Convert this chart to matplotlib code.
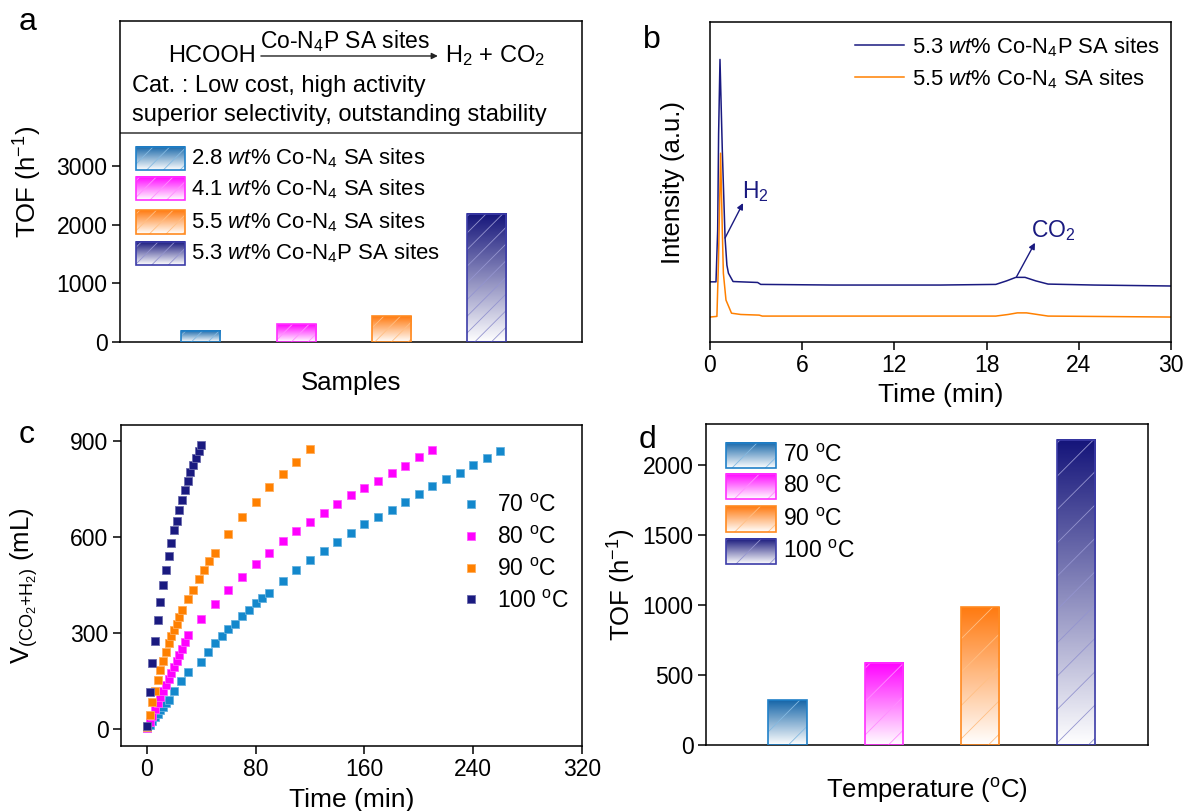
import numpy as np
import matplotlib
matplotlib.use("Agg")
import matplotlib.pyplot as plt
from matplotlib.colors import to_rgb
from matplotlib.patches import Rectangle

plt.rcParams['font.family'] = 'Liberation Sans'
plt.rcParams['mathtext.fontset'] = 'custom'
plt.rcParams['mathtext.rm'] = 'Liberation Sans'
plt.rcParams['mathtext.it'] = 'Liberation Sans:italic'
plt.rcParams['mathtext.bf'] = 'Liberation Sans:bold'
plt.rcParams['hatch.linewidth'] = 0.6
plt.rcParams['axes.linewidth'] = 1.1

# ---- data -------------------------------------------------------------
# (a) TOF of the four catalysts
samples = ['2.8 $\\mathit{wt}$% Co-N$_4$ SA sites',
           '4.1 $\\mathit{wt}$% Co-N$_4$ SA sites',
           '5.5 $\\mathit{wt}$% Co-N$_4$ SA sites',
           '5.3 $\\mathit{wt}$% Co-N$_4$P SA sites']
tof_samples = [190, 300, 440, 2190]

# (b) GC traces (arbitrary intensity units)
t_n4p = [0, 0.39, 0.5, 0.56, 0.65, 0.8, 0.98, 1.1, 1.2, 1.5, 2.0, 3.1, 3.3,
         8, 15, 18.6, 19.3, 19.9, 20.5, 21.2, 22, 25, 30]
i_n4p = [18.8, 18.8, 35, 65, 88.3, 60, 32.5, 24, 21.5, 18.9, 18.8, 18.6, 18.0,
         17.8, 17.8, 18.0, 19.1, 20.2, 20.2, 19.1, 18.1, 17.8, 17.5]
t_n4 = [0, 0.45, 0.55, 0.69, 0.8, 0.87, 1.04, 1.4, 2.0, 3.2, 3.4,
        18.6, 19.4, 20.0, 20.6, 21.3, 22, 30]
i_n4 = [7.8, 8.0, 25, 59, 35, 21.5, 13.1, 9.0, 8.6, 8.4, 8.1,
        8.1, 8.6, 9.1, 9.1, 8.6, 8.1, 7.8]

# (c) gas volume vs time
t70 = [0, 2, 4, 6, 8, 10, 12, 14, 16, 20, 25, 30, 40, 45, 50, 55, 60, 65, 70, 75,
       80, 85, 90, 100, 110, 120, 130, 140, 150, 160, 170, 180, 190, 200, 210,
       220, 230, 240, 250, 260]
v70 = [3, 14, 26, 37, 48, 59, 70, 81, 93, 121, 150, 180, 210, 240, 271, 290, 313,
       330, 353, 371, 394, 409, 426, 462, 496, 528, 558, 586, 614, 640, 664, 685,
       710, 734, 759, 781, 801, 825, 848, 869]
t80 = [0, 2, 4, 6, 8, 10, 12, 14, 16, 18, 20, 22, 24, 26, 28, 30, 40, 50, 60, 70,
       80, 90, 100, 110, 120, 130, 140, 150, 160, 170, 180, 190, 200, 210]
v80 = [5, 24, 43, 62, 81, 100, 119, 138, 157, 175, 194, 213, 232, 252, 272, 293,
       343, 391, 436, 476, 516, 552, 587, 618, 647, 676, 704, 730, 754, 775, 800,
       823, 851, 871]
t90 = [0, 2, 4, 6, 8, 10, 12, 14, 16, 18, 20, 22, 24, 26, 30, 34, 38, 42, 46, 50,
       60, 70, 80, 90, 100, 110, 120]
v90 = [8, 46, 86, 121, 153, 184, 213, 242, 268, 292, 309, 330, 350, 374, 406, 436,
       468, 496, 524, 552, 610, 662, 710, 756, 798, 836, 875]
t100 = [0, 2, 4, 6, 8, 10, 12, 14, 16, 18, 20, 22, 24, 26, 28, 30, 32, 34, 36, 38, 40]
v100 = [10, 117, 207, 275, 340, 399, 450, 498, 542, 583, 622, 651, 685, 717, 747,
        776, 802, 826, 847, 868, 888]

# (d) TOF vs temperature
temps = ['70 $^{\\rm o}$C', '80 $^{\\rm o}$C', '90 $^{\\rm o}$C', '100 $^{\\rm o}$C']
tof_temps = [320, 586, 984, 2180]

c_blue = '#1388cc'
c_mag = '#ff00ff'
c_orange = '#ff8000'
c_navy = '#1a1a80'
bar_top = ['#1565a8', '#ff00ff', '#ff7a10', '#14147a']
bar_edge = ['#2080c8', '#ff30ff', '#ff8a20', '#3c3ca8']


def tint(c, f):
    r = np.array(to_rgb(c))
    return tuple(r + (1 - r) * f)


def gradient(ax, x0, y0, w, h, color, transform, zorder=2):
    t = np.linspace(0, 1, 200)[:, None, None]
    img = np.ones((200, 1, 3)) * (1 - t) + np.array(to_rgb(color))[None, None, :] * t
    ax.imshow(img, extent=(x0, x0 + w, y0, y0 + h), origin='lower', aspect='auto',
              transform=transform, zorder=zorder, interpolation='bilinear')


def grad_bars(ax, x, vals, width, hatch):
    bars = ax.bar(x, vals, width, fill=False, linewidth=0, zorder=3)
    for b, top in zip(bars, bar_top):
        gradient(ax, b.get_x(), b.get_y(), b.get_width(), b.get_height(), top, ax.transData)
    for b, e in zip(bars, bar_edge):
        b.set_hatch(hatch)
        b.set_edgecolor(tint(e, 0.45))
    ax.bar(x, vals, width, fill=False, edgecolor=bar_edge, linewidth=1.2, zorder=4)


def grad_legend(ax, labels, x0, w, ycs, h, tx, fs, hatch):
    for lab, yc, top, e in zip(labels, ycs, bar_top, bar_edge):
        gradient(ax, x0, yc - h / 2, w, h, top, ax.transAxes, zorder=5)
        ax.add_patch(Rectangle((x0, yc - h / 2), w, h, fill=False, hatch=hatch,
                               edgecolor=tint(e, 0.45), lw=0, transform=ax.transAxes, zorder=6))
        ax.add_patch(Rectangle((x0, yc - h / 2), w, h, fill=False, edgecolor=e,
                               lw=1.2, transform=ax.transAxes, zorder=7))
        ax.text(tx, yc, lab, transform=ax.transAxes, fontsize=fs, va='center', ha='left')


fig = plt.figure(figsize=(11.86, 8.11), dpi=100)
W, H = 1186, 811


def add_ax(l, r, t, b):
    return fig.add_axes([l / W, (H - b) / H, (r - l) / W, (b - t) / H])


ax_a = add_ax(120, 582, 21, 342)
ax_b = add_ax(710, 1171, 22, 342)
ax_c = add_ax(121, 582, 425, 746)
ax_d = add_ax(706, 1148, 424, 745)

# ---- (a) --------------------------------------------------------------
xa = np.arange(1, 5)
grad_bars(ax_a, xa, tof_samples, 0.41, '//')
ax_a.set_xlim(0.15, 5.0)
ax_a.set_ylim(0, 5487)
ax_a.set_yticks([0, 1000, 2000, 3000])
ax_a.set_xticks([])
ax_a.tick_params(axis='y', direction='out', length=5.5, width=1.1, labelsize=16.5)
ax_a.axhline(3573, color='#333333', lw=1.1)
ax_a.set_ylabel('TOF (h$^{-1}$)', fontsize=18.5, labelpad=9)
ax_a.set_xlabel('Samples', fontsize=18.5, labelpad=21)
ax_a.text(0.104, 0.891, 'HCOOH', transform=ax_a.transAxes, fontsize=17, va='center')
ax_a.annotate('', xy=(0.688, 0.891), xytext=(0.305, 0.891), xycoords='axes fraction',
              arrowprops=dict(arrowstyle='-|>', color='#222222', lw=1.0, mutation_scale=9,
                              shrinkA=0, shrinkB=0))
ax_a.text(0.487, 0.936, 'Co-N$_4$P SA sites', transform=ax_a.transAxes, fontsize=16.5,
          ha='center', va='center')
ax_a.text(0.703, 0.891, 'H$_2$ + CO$_2$', transform=ax_a.transAxes, fontsize=17, va='center')
ax_a.text(0.026, 0.798, 'Cat. : Low cost, high activity', transform=ax_a.transAxes,
          fontsize=17, va='center')
ax_a.text(0.026, 0.707, 'superior selectivity, outstanding stability', transform=ax_a.transAxes,
          fontsize=17, va='center')
grad_legend(ax_a, samples, 0.0346, 0.106, [0.573, 0.477, 0.374, 0.277], 0.072, 0.154, 15.9, '//')

# ---- (b) --------------------------------------------------------------
ax_b.plot(t_n4p, i_n4p, color=c_navy, lw=1.1, label=samples[3])
ax_b.plot(t_n4, i_n4, color=c_orange, lw=1.1, label=samples[2])
ax_b.set_xlim(0, 30)
ax_b.set_ylim(0, 100)
ax_b.set_xticks([0, 6, 12, 18, 24, 30])
ax_b.set_yticks([])
ax_b.tick_params(axis='x', direction='out', length=5.5, width=1.1, labelsize=16.5)
ax_b.set_xlabel('Time (min)', fontsize=19, labelpad=4)
ax_b.set_ylabel('Intensity (a.u.)', fontsize=18.5, labelpad=18)
ax_b.legend(loc='upper left', bbox_to_anchor=(0.3145, 0.959), frameon=False, fontsize=15.8,
            handlelength=2.25, handletextpad=0.35, labelspacing=0.38, borderpad=0, borderaxespad=0)
ax_b.annotate('', xy=(2.15, 43.4), xytext=(0.98, 32.5),
              arrowprops=dict(arrowstyle='-|>', color=c_navy, lw=1.0, mutation_scale=9,
                              shrinkA=0, shrinkB=0))
ax_b.text(2.05, 45.0, 'H$_2$', color=c_navy, fontsize=16.5, va='baseline')
ax_b.annotate('', xy=(21.15, 31.0), xytext=(19.95, 20.4),
              arrowprops=dict(arrowstyle='-|>', color=c_navy, lw=1.0, mutation_scale=9,
                              shrinkA=0, shrinkB=0))
ax_b.text(20.9, 32.9, 'CO$_2$', color=c_navy, fontsize=16.5, va='baseline')

# ---- (c) --------------------------------------------------------------
for tt, vv, col, lab in [(t70, v70, c_blue, temps[0]), (t80, v80, c_mag, temps[1]),
                         (t90, v90, c_orange, temps[2]), (t100, v100, c_navy, temps[3])]:
    ax_c.plot(tt, vv, 's', color=col, ms=5.2, mec=tint(col, 0.35), mew=0.6, label=lab)
ax_c.set_xlim(-19, 320)
ax_c.set_ylim(-52, 950)
ax_c.set_xticks([0, 80, 160, 240, 320])
ax_c.set_yticks([0, 300, 600, 900])
ax_c.tick_params(direction='out', length=5.5, width=1.1, labelsize=16.5)
ax_c.set_xlabel('Time (min)', fontsize=19, labelpad=5)
ax_c.set_ylabel('V$_{\\rm (CO_2{+}H_2)}$ (mL)', fontsize=18.5, labelpad=22)
ax_c.legend(loc='upper left', bbox_to_anchor=(0.739, 0.786), frameon=False, fontsize=16.5,
            handlelength=0.8, handletextpad=0.75, labelspacing=0.39, borderpad=0,
            borderaxespad=0, numpoints=1)

# ---- (d) --------------------------------------------------------------
xd = np.arange(1, 5)
grad_bars(ax_d, xd, tof_temps, 0.406, '/')
ax_d.set_xlim(0.146, 4.75)
ax_d.set_ylim(0, 2293)
ax_d.set_yticks([0, 500, 1000, 1500, 2000])
ax_d.set_xticks([])
ax_d.tick_params(axis='y', direction='out', length=5.5, width=1.1, labelsize=16.5)
ax_d.set_ylabel('TOF (h$^{-1}$)', fontsize=18.5, labelpad=3)
ax_d.set_xlabel('Temperature ($^{\\rm o}$C)', fontsize=18.5, labelpad=22)
grad_legend(ax_d, temps, 0.0452, 0.113, [0.903, 0.804, 0.704, 0.604], 0.078, 0.174, 16.5, '/')

# panel letters
for lab, (px, py) in zip('abcd', [(28, 22), (652, 40), (27, 435), (648, 440)]):
    fig.text(px / W, 1 - py / H, lab, fontsize=23, ha='center', va='center')

fig.savefig('out.png', dpi=100)
